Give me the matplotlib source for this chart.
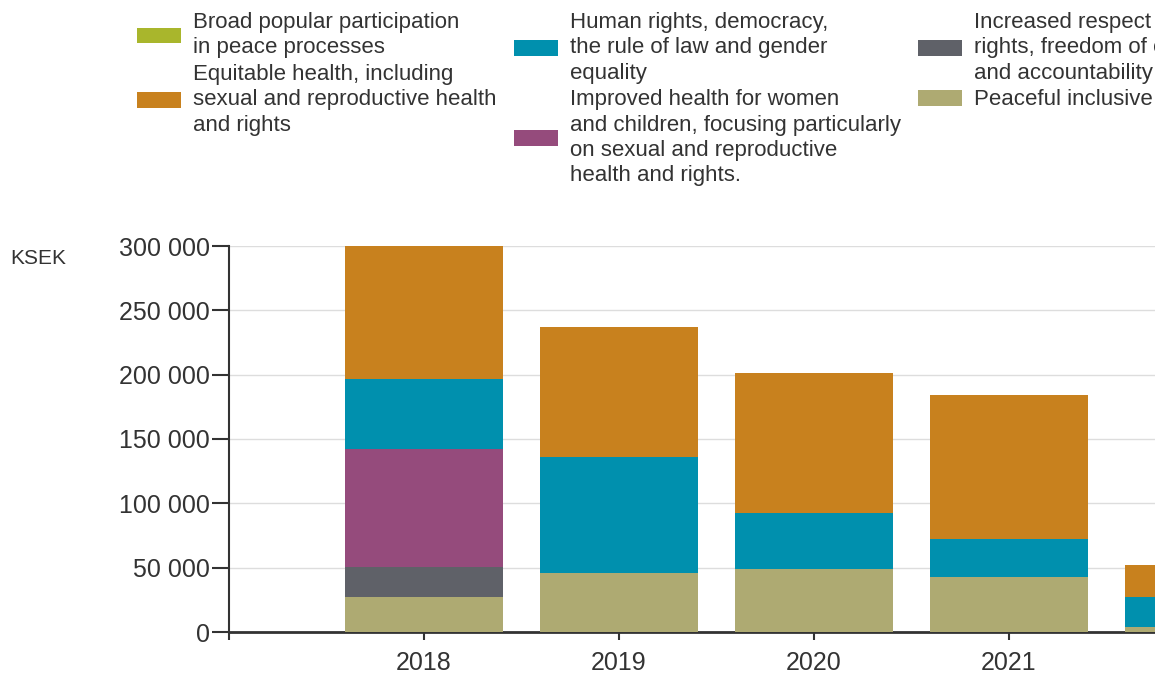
import numpy as np
import matplotlib
matplotlib.use("Agg")
import matplotlib.pyplot as plt
from matplotlib.patches import Patch
from matplotlib.ticker import FuncFormatter

plt.rcParams["font.family"] = ["Liberation Sans", "DejaVu Sans"]

years = ["2018", "2019", "2020", "2021", "2022"]

# KSEK per goal (bottom to top in stack)
peaceful = [27200, 45900, 49000, 42700, 3900]
increased_respect = [23300, 0, 0, 0, 0]
improved_health = [91700, 0, 0, 0, 0]
human_rights = [54400, 90100, 43500, 29600, 23300]
equitable_health = [103400, 101000, 108800, 111900, 24900]
broad_popular = [0, 0, 0, 0, 0]

labels = {
    "broad": "Broad popular participation\nin peace processes",
    "equitable": "Equitable health, including\nsexual and reproductive health\nand rights",
    "human": "Human rights, democracy,\nthe rule of law and gender\nequality",
    "improved": "Improved health for women\nand children, focusing particularly\non sexual and reproductive\nhealth and rights.",
    "increased": "Increased respect for human\nrights, freedom of expression\nand accountability",
    "peaceful": "Peaceful inclusive societies",
}
colors = {
    "broad": "#a9b62c",
    "equitable": "#c8811e",
    "human": "#0090ae",
    "improved": "#954b7c",
    "increased": "#5f6168",
    "peaceful": "#aeaa72",
}

TEXT = "#333333"

fig = plt.figure(figsize=(11.55, 6.75), dpi=100)
ax = fig.add_axes([229 / 1155, 1 - 632 / 675, 5.5 * 195 / 1155, 386 / 675])

x = np.arange(len(years))
w = 0.81
stack = [
    ("peaceful", peaceful),
    ("increased", increased_respect),
    ("improved", improved_health),
    ("human", human_rights),
    ("equitable", equitable_health),
    ("broad", broad_popular),
]
bottom = np.zeros(len(years))
for key, vals in stack:
    vals = np.array(vals, dtype=float)
    ax.bar(x, vals, w, bottom=bottom, color=colors[key], linewidth=0, zorder=3)
    bottom += vals

ax.set_xlim(-1, 4.5)
ax.set_ylim(0, 300000)
ax.set_yticks(np.arange(0, 300001, 50000))
ax.yaxis.set_major_formatter(FuncFormatter(lambda v, p: f"{int(v):,}".replace(",", " ")))
# the 2022 label falls outside the visible area in the reference
ax.set_xticks(x[:4])
ax.set_xticklabels(years[:4])
ax.set_xticks([-1], minor=True)

ax.grid(axis="y", color="#dddddd", linewidth=1, zorder=0)
for s in ["top", "right"]:
    ax.spines[s].set_visible(False)
ax.spines["left"].set_color(TEXT)
ax.spines["left"].set_linewidth(1.5)
ax.spines["bottom"].set_color(TEXT)
ax.spines["bottom"].set_linewidth(2)

ax.tick_params(axis="y", length=12, width=1.5, color=TEXT, labelsize=18,
               labelcolor=TEXT, pad=2)
ax.tick_params(axis="x", which="both", length=6, width=1.5, color=TEXT,
               labelsize=18, labelcolor=TEXT, pad=8)

fig.text(10 / 1155, 1 - 258 / 675, "KSEK", fontsize=15, color=TEXT,
         ha="left", va="center")

# legend: three top-aligned columns, two entries each
columns = [("broad", "equitable"), ("human", "improved"), ("increased", "peaceful")]
col_left = [137, 514, 918]
for keys, left in zip(columns, col_left):
    handles = [Patch(facecolor=colors[k], edgecolor="none") for k in keys]
    leg = fig.legend(handles, [labels[k] for k in keys],
                     loc="upper left", bbox_to_anchor=(left / 1155, 0.982),
                     frameon=False, fontsize=16, handlelength=1.98,
                     handleheight=0.72, handletextpad=0.54,
                     labelspacing=0.25, borderpad=0, borderaxespad=0,
                     labelcolor=TEXT)
    for t in leg.get_texts():
        t.set_linespacing(1.27)

fig.savefig("out.png", dpi=100)
